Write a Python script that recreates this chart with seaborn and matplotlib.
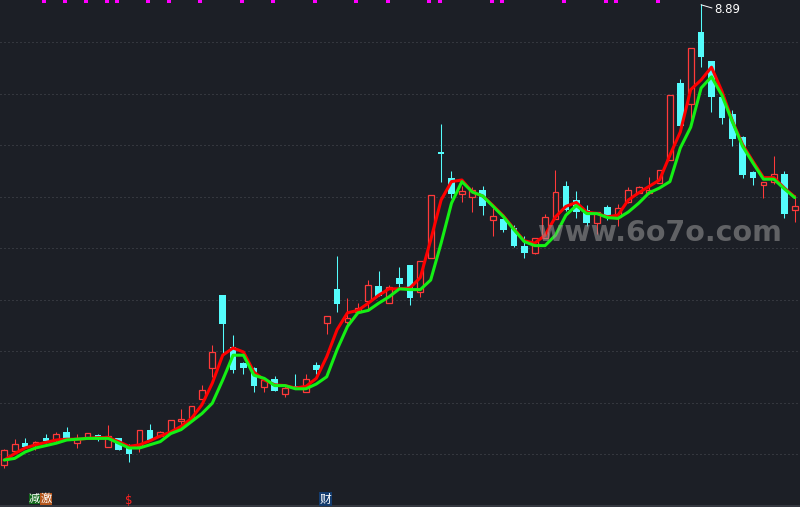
import numpy as np
import pandas as pd
import seaborn as sns
import matplotlib.pyplot as plt

# daily prices, one entry per candle (left to right)
open_ = [3.13, 3.30, 3.40, 3.39, 3.47, 3.44, 3.54, 3.40, 3.48, 3.50,
         3.35, 3.46, 3.34, 3.37, 3.57, 3.49, 3.54, 3.68, 3.72, 3.95,
         4.34, 5.25, 4.60, 4.40, 4.34, 4.10, 4.20, 4.02, 4.12, 4.04,
         4.38, 4.90, 5.33, 4.91, 5.04, 5.18, 5.37, 5.15, 5.46, 5.63,
         5.29, 5.72, 7.04, 6.72, 6.51, 6.48, 6.57, 6.19, 6.20, 6.09,
         5.86, 5.78, 5.96, 6.20, 6.62, 6.44, 6.32, 6.15, 6.35, 6.23,
         6.41, 6.53, 6.53, 6.65, 6.94, 7.90, 7.64, 8.54, 8.18, 7.73,
         7.52, 7.23, 6.79, 6.63, 6.67, 6.77, 6.31]
high = [3.33, 3.45, 3.47, 3.43, 3.52, 3.54, 3.60, 3.52, 3.53, 3.52,
        3.63, 3.47, 3.39, 3.56, 3.64, 3.55, 3.69, 3.83, 3.86, 4.13,
        4.63, 5.25, 4.75, 4.42, 4.35, 4.19, 4.24, 4.14, 4.27, 4.27,
        4.41, 4.99, 5.74, 5.22, 5.15, 5.44, 5.55, 5.38, 5.60, 5.63,
        5.68, 6.50, 7.39, 6.80, 6.62, 6.60, 6.62, 6.34, 6.27, 6.13,
        5.99, 5.97, 6.27, 6.82, 6.68, 6.55, 6.38, 6.29, 6.38, 6.39,
        6.60, 6.62, 6.73, 6.82, 7.75, 7.95, 8.34, 8.89, 8.18, 7.74,
        7.57, 7.24, 6.80, 6.66, 6.99, 6.80, 6.50]
low = [3.09, 3.29, 3.34, 3.32, 3.40, 3.42, 3.45, 3.34, 3.47, 3.43,
       3.35, 3.31, 3.16, 3.29, 3.43, 3.48, 3.53, 3.57, 3.67, 3.95,
       4.23, 4.52, 4.28, 4.27, 4.04, 4.04, 4.05, 3.98, 4.08, 4.04,
       4.27, 4.76, 5.04, 4.85, 5.04, 5.07, 5.24, 5.15, 5.34, 5.13,
       5.23, 5.71, 6.66, 6.47, 6.42, 6.29, 6.25, 5.99, 6.04, 5.85,
       5.72, 5.76, 5.96, 6.20, 6.30, 6.21, 6.11, 6.02, 6.19, 6.11,
       6.40, 6.53, 6.52, 6.65, 6.94, 7.35, 7.36, 8.10, 7.54, 7.39,
       7.12, 6.72, 6.63, 6.47, 6.64, 6.21, 6.17]
close = [3.32, 3.39, 3.35, 3.42, 3.43, 3.52, 3.47, 3.47, 3.53, 3.48,
         3.49, 3.32, 3.27, 3.56, 3.44, 3.54, 3.69, 3.70, 3.86, 4.07,
         4.54, 4.89, 4.32, 4.34, 4.11, 4.19, 4.05, 4.09, 4.08, 4.20,
         4.32, 4.99, 5.14, 4.97, 5.09, 5.38, 5.24, 5.35, 5.39, 5.22,
         5.68, 6.50, 7.01, 6.52, 6.55, 6.57, 6.37, 6.24, 6.07, 5.86,
         5.78, 5.96, 6.23, 6.54, 6.32, 6.29, 6.15, 6.29, 6.23, 6.34,
         6.56, 6.60, 6.57, 6.81, 7.75, 7.36, 8.34, 8.23, 7.73, 7.47,
         7.20, 6.75, 6.72, 6.66, 6.76, 6.26, 6.36]

# the two moving-average lines
ma_fast = [3.19, 3.27, 3.34, 3.38, 3.41, 3.44, 3.45, 3.45, 3.46, 3.47,
           3.47, 3.42, 3.36, 3.38, 3.43, 3.49, 3.54, 3.61, 3.71, 3.88,
           4.15, 4.50, 4.59, 4.54, 4.29, 4.19, 4.13, 4.12, 4.09, 4.11,
           4.21, 4.48, 4.82, 5.03, 5.06, 5.15, 5.25, 5.33, 5.33, 5.34,
           5.47, 5.94, 6.44, 6.67, 6.69, 6.54, 6.49, 6.37, 6.24, 6.08,
           5.93, 5.90, 6.00, 6.23, 6.36, 6.41, 6.29, 6.27, 6.23, 6.25,
           6.44, 6.53, 6.61, 6.69, 7.00, 7.29, 7.82, 7.94, 8.10, 7.80,
           7.43, 7.13, 6.92, 6.72, 6.72, 6.59, 6.48]
ma_slow = [3.19, 3.21, 3.29, 3.34, 3.37, 3.40, 3.44, 3.45, 3.46, 3.46,
           3.46, 3.40, 3.34, 3.34, 3.38, 3.42, 3.52, 3.57, 3.67, 3.77,
           3.90, 4.19, 4.50, 4.50, 4.25, 4.21, 4.12, 4.12, 4.08, 4.08,
           4.14, 4.23, 4.57, 4.86, 5.03, 5.06, 5.15, 5.23, 5.33, 5.32,
           5.32, 5.44, 5.90, 6.40, 6.67, 6.54, 6.49, 6.36, 6.23, 6.07,
           5.92, 5.87, 5.87, 6.00, 6.25, 6.37, 6.27, 6.27, 6.22, 6.21,
           6.29, 6.40, 6.53, 6.59, 6.67, 7.09, 7.35, 7.84, 7.98, 7.75,
           7.42, 7.11, 6.90, 6.70, 6.70, 6.58, 6.47]

signal_days = [4, 6, 8, 10, 11, 14, 16, 19, 23, 26, 30, 34, 37, 41, 42,
               47, 48, 54, 58, 59, 63]
peak_label = "8.89"

BG = "#1c1f26"
UP = "#ff3a3a"
DOWN = "#54fcfc"

df = pd.DataFrame({"open": open_, "high": high, "low": low, "close": close,
                   "ma_fast": ma_fast, "ma_slow": ma_slow})
df["day"] = np.arange(len(df))
up = df[df["close"] >= df["open"]]
down = df[df["close"] < df["open"]]

sns.set_theme(style="dark", rc={"axes.facecolor": BG, "figure.facecolor": BG})
plt.rcParams["font.family"] = ["Noto Sans CJK SC", "DejaVu Sans"]

fig = plt.figure(figsize=(8, 5.07), dpi=100)
ax = fig.add_axes([0, 0, 1, 1])
ax.set_facecolor(BG)
x0, x1 = -0.413, 76.51
y0, y1 = 2.6025, 8.94
ax.set_xlim(x0, x1)
ax.set_ylim(y0, y1)

# dotted grid
grid_levels = np.linspace(3.265, 8.415, 9)
ax.hlines(grid_levels, x0, x1, colors="#4c4f57", linestyles=(0, (1, 3)), linewidth=0.72, zorder=0)
ax.axhline(2.615, color="#3a3d45", linewidth=1.2, zorder=0)

# falling candles: solid cyan
ax.vlines(down["day"], down["low"], down["high"], color=DOWN, linewidth=0.75, zorder=2)
ax.bar(down["day"], np.maximum(down["open"] - down["close"], 0.012), bottom=down["close"],
       width=0.62, color=DOWN, linewidth=0, zorder=2)

# rising candles: hollow red
ax.vlines(up["day"], up["close"], up["high"], color=UP, linewidth=0.75, zorder=2)
ax.vlines(up["day"], up["low"], up["open"], color=UP, linewidth=0.75, zorder=2)
ax.bar(up["day"], np.maximum(up["close"] - up["open"], 0.012), bottom=up["open"],
       width=0.55, facecolor=BG, edgecolor=UP, linewidth=0.9, zorder=2)

sns.lineplot(data=df, x="day", y="ma_fast", ax=ax, color="#ff0000", linewidth=2.2, zorder=3)
sns.lineplot(data=df, x="day", y="ma_slow", ax=ax, color="#14f014", linewidth=2.2, zorder=4)

# signal marks along the top
ax.scatter(np.array(signal_days) - 0.15, [8.93] * len(signal_days), marker="s", s=6,
           color="#ff00ff", linewidths=0, zorder=5, clip_on=False)

# high label
peak_day = int(df["high"].idxmax())
ax.plot([peak_day, peak_day + 1.05], [df["high"].max() - 0.01, df["high"].max() - 0.05],
        color="white", linewidth=0.7, zorder=5)
ax.text(peak_day + 1.25, df["high"].max() - 0.07, peak_label, color="white", fontsize=8.5,
        va="center", ha="left", family="DejaVu Sans", zorder=5)

# watermark
fig.text(660 / 800, 1 - 233 / 507, "www.6o7o.com", fontsize=20.5, fontweight="bold",
         color="#9a9a9a", alpha=0.55, ha="center", va="center", family="DejaVu Sans")

# bottom tags
fig.text(29 / 800, 1 - 499 / 507, "减", color="white", fontsize=8, ha="left", va="center",
         bbox=dict(boxstyle="square,pad=0.02", fc="#11661a", ec="none"))
fig.text(40.5 / 800, 1 - 499 / 507, "激", color="white", fontsize=8, ha="left", va="center",
         bbox=dict(boxstyle="square,pad=0.02", fc="#b4561c", ec="none"))
fig.text(125 / 800, 1 - 500 / 507, "$", color="#ff2020", fontsize=8.5, ha="left", va="center",
         family="DejaVu Sans")
fig.text(319.5 / 800, 1 - 499 / 507, "财", color="white", fontsize=8.5, ha="left", va="center",
         bbox=dict(boxstyle="square,pad=0.08", fc="#143c6e", ec="none"))

ax.set_xticks([])
ax.set_yticks([])
ax.set_xlabel("")
ax.set_ylabel("")
for s in ax.spines.values():
    s.set_visible(False)

fig.savefig("out.png", dpi=100, facecolor=BG)
